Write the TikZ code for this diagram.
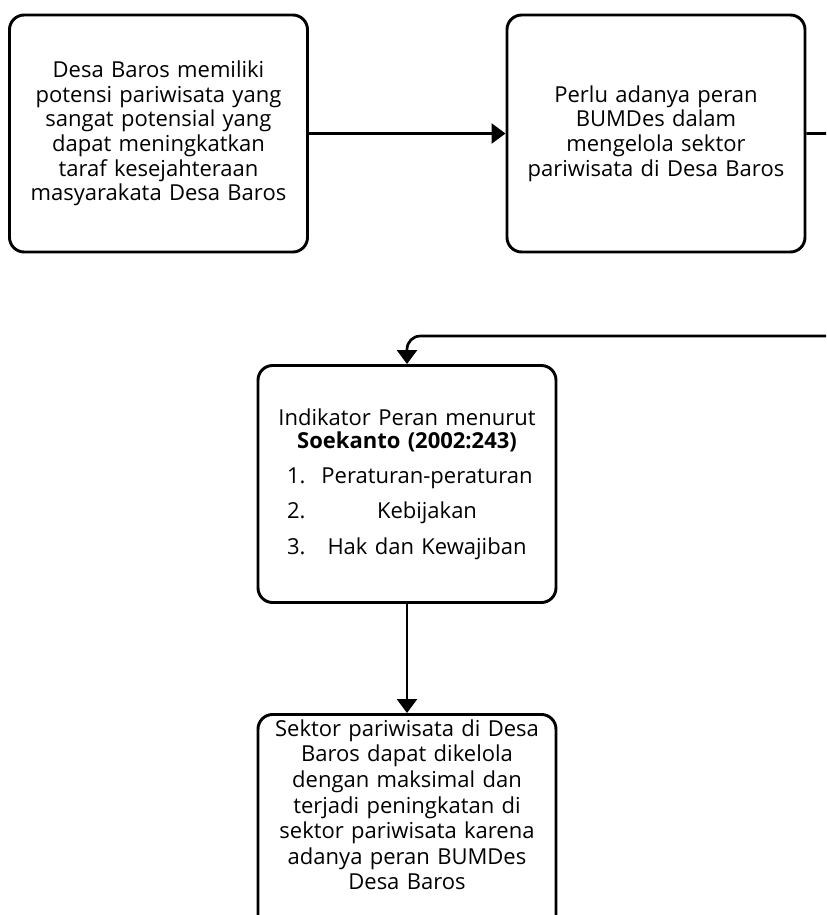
\documentclass[tikz,border=0pt]{standalone}
\usepackage{fontspec}
\setmainfont{Open Sans}
\usetikzlibrary{arrows.meta}

\begin{document}
\begin{tikzpicture}[x=0.75pt,y=-0.75pt,
    kotak/.style={draw, line width=2.2pt, rounded corners=11pt, minimum width=223.5pt,
      minimum height=177.75pt, text width=205pt, align=center,
      font=\fontsize{16.5}{18.4}\selectfont},
    panah/.style={line width=2pt, -{Triangle[length=10.5pt,width=15pt]}}]
    \useasboundingbox (0,0) rectangle (826,915);
    \clip (0,0) rectangle (826,915);

    \node[kotak] (potensi) at (158.5,133.5) {Desa Baros memiliki\\ potensi pariwisata yang\\ sangat potensial yang\\ dapat meningkatkan\\ taraf kesejahteraan\\ masyarakata Desa Baros};
    \node[kotak] (peran) at (656,133.5) {Perlu adanya peran\\ BUMDes dalam\\ mengelola sektor\\ pariwisata di Desa Baros};
    \node[kotak] (indikator) at (407,484) {Indikator Peran menurut\\[-1pt] \textbf{Soekanto (2002:243)}\\[8pt]
      \hspace*{6pt}\makebox[24pt][l]{1.}\makebox[162pt]{Peraturan-peraturan}\\[8pt]
      \hspace*{6pt}\makebox[24pt][l]{2.}\makebox[162pt]{Kebijakan}\\[8pt]
      \hspace*{6pt}\makebox[24pt][l]{3.}\makebox[162pt]{Hak dan Kewajiban}};
    \node[kotak, anchor=north, font=\fontsize{16.5}{19.2}\selectfont] (hasil) at (407,713) {\parbox[c][170pt][t]{205pt}{\centering
      Sektor pariwisata di Desa\\ Baros dapat dikelola\\ dengan maksimal dan\\ terjadi peningkatan di\\ sektor pariwisata karena\\ adanya peran BUMDes\\ Desa Baros}};
    \coordinate (belok) at (870,336);

    \draw[panah] (potensi) -- (peran);
    \draw[panah, rounded corners=10pt] (peran.east) -| (belok) -- (indikator.north |- belok) -- (indikator.north);
    \draw[panah] (indikator) -- (hasil);
\end{tikzpicture}
\end{document}
